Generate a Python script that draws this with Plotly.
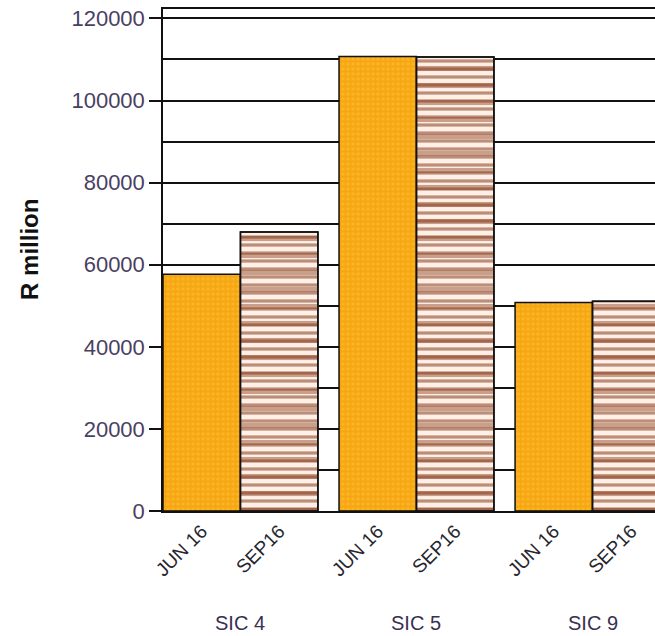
import plotly.graph_objects as go

# Sector groups and the two reporting quarters
groups = ["SIC 4", "SIC 5", "SIC 9"]
quarters = ["JUN 16", "SEP16"]
jun16 = [57700, 110700, 50800]
sep16 = [68000, 110600, 51100]

group_pos = list(range(len(groups)))
bar_w = 0.44
edge = dict(color="#111111", width=1.5)

fig = go.Figure()
# June quarter: orange with a fine light check
fig.add_trace(go.Bar(
    x=group_pos, y=jun16, name=quarters[0], width=bar_w, offset=-bar_w,
    marker=dict(
        color="#f5a00a", line=edge,
        pattern=dict(shape="+", fgcolor="#f09800", bgcolor="#fbb424",
                     size=5, solidity=0.6),
    ),
))
# September quarter: brown / cream horizontal stripes, two layered stripe
# periods so the banding varies down the bar
fig.add_trace(go.Bar(
    x=group_pos, y=sep16, name=quarters[1], width=bar_w, offset=0,
    marker=dict(
        color="#8a3a14", line=edge,
        pattern=dict(shape="-", fgcolor="#7a2a08", bgcolor="#fef0e6",
                     size=8, solidity=0.4),
    ),
))
fig.add_trace(go.Bar(
    x=group_pos, y=sep16, name=quarters[1], width=bar_w, offset=0,
    hoverinfo="skip",
    marker=dict(
        color="rgba(0,0,0,0)", line=edge,
        pattern=dict(shape="-", fgcolor="rgba(130,48,14,0.85)",
                     bgcolor="rgba(0,0,0,0)", size=17, solidity=0.3),
    ),
))

# one label under every bar: quarter name
tick_vals, tick_text = [], []
for g in group_pos:
    tick_vals += [g - bar_w / 2, g + bar_w / 2]
    tick_text += quarters

fig.update_layout(
    width=655, height=636,
    margin=dict(l=163, r=0, t=9, b=125),
    paper_bgcolor="white", plot_bgcolor="white",
    showlegend=False,
    barmode="overlay",
    font=dict(family="Liberation Sans, Arial, sans-serif", color="#3a3348"),
    xaxis=dict(
        range=[-bar_w, -bar_w + 2.795],
        tickvals=tick_vals, ticktext=tick_text, tickangle=-45,
        tickfont=dict(size=19, color="#26262e"),
        ticks="", showgrid=False, zeroline=False,
        showline=True, linecolor="#111111", linewidth=1.5, mirror=True,
    ),
    yaxis=dict(
        range=[0, 122300], dtick=20000, tickformat="d",
        tickfont=dict(size=22, color="#4a3f62"),
        ticks="outside", ticklen=12, tickwidth=1.5, tickcolor="#111111",
        showgrid=True, gridcolor="#111111", gridwidth=1.5,
        minor=dict(dtick=10000, showgrid=True, gridcolor="#111111", gridwidth=1.5),
        zeroline=False,
        showline=True, linecolor="#111111", linewidth=1.5,
    ),
)

# group labels below the quarter labels
for g, name in zip(group_pos, groups):
    fig.add_annotation(
        x=g, xref="x", y=0, yref="paper", yshift=-112,
        text=name, showarrow=False, yanchor="middle",
        font=dict(size=20, color="#3a3050"),
    )

fig.add_annotation(
    x=-133 / 492, xref="paper", y=0.52, yref="paper",
    text="<b>R million</b>", textangle=-90, showarrow=False,
    xanchor="center", yanchor="middle",
    font=dict(size=24, color="#111111"),
)

fig.write_html("out.html")
